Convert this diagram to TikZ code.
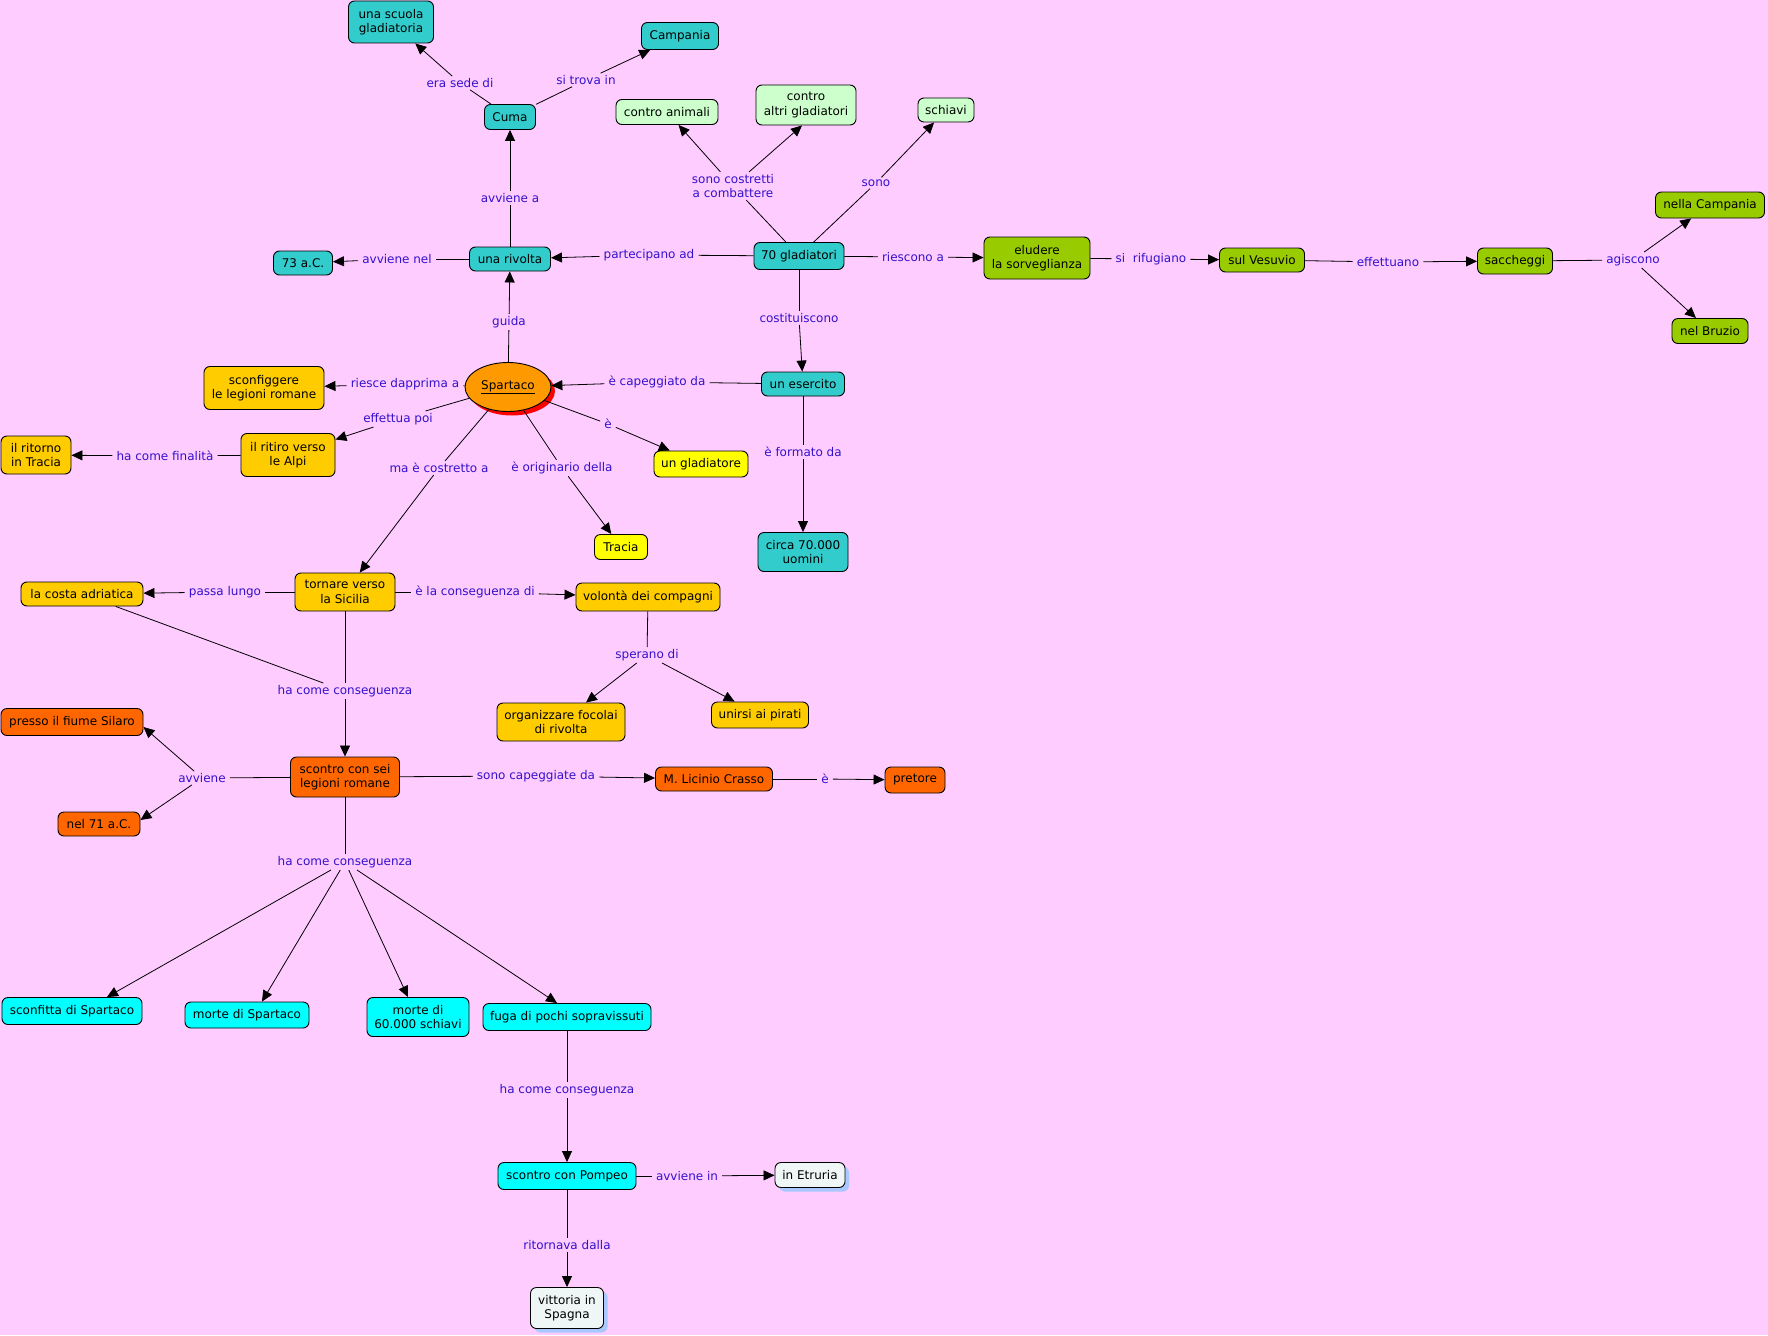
\documentclass[tikz,border=0pt]{standalone}
\usepackage{fontspec}
\setmainfont{DejaVu Sans}
\usetikzlibrary{arrows.meta,shapes.geometric,shadows}
\definecolor{cBg}{HTML}{FFCCFF}
\definecolor{cTeal}{HTML}{33CCCC}
\definecolor{cLGreen}{HTML}{CCFFCC}
\definecolor{cYGreen}{HTML}{99CC00}
\definecolor{cGold}{HTML}{FFCC00}
\definecolor{cYellow}{HTML}{FFFF00}
\definecolor{cOrange}{HTML}{FF9900}
\definecolor{cDOrange}{HTML}{FF6600}
\definecolor{cCyan}{HTML}{00FFFF}
\definecolor{cPale}{HTML}{EEF6F6}
\definecolor{cShadowBlue}{HTML}{A8C8FF}
\definecolor{cLbl}{HTML}{3311CC}
\begin{document}
\begin{tikzpicture}[x=1pt,y=-1pt,
  concept/.style={draw=black, line width=0.9pt, rounded corners=6pt, inner xsep=3pt, inner ysep=2pt, align=center, font=\fontsize{12}{14.5}\selectfont},
  cteal/.style={concept, fill=cTeal},
  clgreen/.style={concept, fill=cLGreen},
  cygreen/.style={concept, fill=cYGreen},
  cgold/.style={concept, fill=cGold},
  cyell/.style={concept, fill=cYellow},
  cdor/.style={concept, fill=cDOrange},
  ccyan/.style={concept, fill=cCyan},
  cpale/.style={concept, fill=cPale, drop shadow={shadow xshift=4pt, shadow yshift=-4pt, fill=cShadowBlue, opacity=1}},
  sz/.style 2 args={minimum width=#1pt, minimum height=#2pt},
  lbl/.style={text=cLbl, inner xsep=4pt, inner ysep=2pt, align=center, font=\fontsize{12}{14.5}\selectfont},
  ln/.style={line width=0.8pt},
  arr/.style={line width=0.8pt, -{Triangle[length=11pt,width=10pt]}}
]
\fill[cBg] (0,0) rectangle (1768,1335);
\useasboundingbox (0,0) rectangle (1768,1335);

% concepts
\node[cteal, sz={85}{42}] (scuola) at (391,22) {una scuola\\gladiatoria};
\node[cteal, sz={77}{27}] (campania) at (680,36) {Campania};
\node[cteal, sz={51}{25}] (cuma) at (510,117) {Cuma};
\node[clgreen, sz={102}{25}] (animali) at (667,112) {contro animali};
\node[clgreen, sz={100}{40}] (altri) at (806,105) {contro\\altri gladiatori};
\node[clgreen, sz={56}{24}] (schiavi) at (946,110) {schiavi};
\node[cteal, sz={59}{24}] (ac73) at (303,263) {73 a.C.};
\node[cteal, sz={81}{24}] (rivolta) at (510,259) {una rivolta};
\node[cteal, sz={90}{27}] (glad70) at (799,256) {70 gladiatori};
\node[cygreen, sz={106}{42}] (eludere) at (1037,258) {eludere\\la sorveglianza};
\node[cygreen, sz={85}{24}] (vesuvio) at (1262,260) {sul Vesuvio};
\node[cygreen, sz={75}{26}] (saccheggi) at (1515,261) {saccheggi};
\node[cygreen, sz={109}{26}] (ncamp) at (1710,205) {nella Campania};
\node[cygreen, sz={76}{25}] (bruzio) at (1710,331) {nel Bruzio};
\node[cteal, sz={83}{24}] (esercito) at (803,384) {un esercito};
\node[cteal, sz={90}{39}] (uomini) at (803,552) {circa 70.000\\uomini};
\node[ellipse, draw=black, line width=0.9pt, fill=cOrange, minimum width=86pt, minimum height=49pt, inner sep=0pt,
      font=\fontsize{12}{14.5}\selectfont,
      drop shadow={shadow xshift=4pt, shadow yshift=-4pt, fill=red, opacity=1}] (spartaco) at (508,387) {\underline{Spartaco}};
\node[cgold, sz={120}{43}] (sconf) at (264,388) {sconfiggere\\le legioni romane};
\node[cgold, sz={94}{43}] (ritiro) at (288,455) {il ritiro verso\\le Alpi};
\node[cgold, sz={70}{38}] (ritorno) at (36,455) {il ritorno\\in Tracia};
\node[cyell, sz={94}{26}] (gladiatore) at (701,464) {un gladiatore};
\node[cyell, sz={53}{25}] (tracia) at (621,547) {Tracia};
\node[cgold, sz={100}{38}] (tornare) at (345,592) {tornare verso\\la Sicilia};
\node[cgold, sz={122}{24}] (costa) at (82,594) {la costa adriatica};
\node[cgold, sz={144}{28}] (volonta) at (648,597) {volontà dei compagni};
\node[cgold, sz={128}{38}] (focolai) at (561,722) {organizzare focolai\\di rivolta};
\node[cgold, sz={97}{26}] (pirati) at (760,715) {unirsi ai pirati};
\node[cdor, sz={142}{27}] (silaro) at (72,722) {presso il fiume Silaro};
\node[cdor, sz={109}{40}] (scontro) at (345,777) {scontro con sei\\legioni romane};
\node[cdor, sz={82}{24}] (ac71) at (99,824) {nel 71 a.C.};
\node[cdor, sz={117}{24}] (crasso) at (714,779) {M. Licinio Crasso};
\node[cdor, sz={60}{26}] (pretore) at (915,780) {pretore};
\node[ccyan, sz={140}{27}] (sconfitta) at (72,1011) {sconfitta di Spartaco};
\node[ccyan, sz={124}{26}] (morte) at (247,1015) {morte di Spartaco};
\node[ccyan, sz={102}{39}] (morte60) at (418,1017) {morte di\\60.000 schiavi};
\node[ccyan, sz={168}{27}] (fuga) at (567,1017) {fuga di pochi sopravissuti};
\node[ccyan, sz={138}{27}] (pompeo) at (567,1176) {scontro con Pompeo};
\node[cpale, sz={70}{25}] (etruria) at (810,1175) {in Etruria};
\node[cpale, sz={73}{41}] (spagna) at (567,1308) {vittoria in\\Spagna};

% linking phrases
\node[lbl] (lsede) at (460,83) {era sede di};
\node[lbl] (ltrova) at (586,80) {si trova in};
\node[lbl] (lavva) at (510,198) {avviene a};
\node[lbl] (lavvnel) at (397,259) {avviene nel};
\node[lbl] (lpart) at (649,255) {partecipano ad};
\node[lbl] (lcostr) at (733,186) {sono costretti\\ a combattere};
\node[lbl] (lsono) at (876,183) {sono};
\node[lbl] (lriesc) at (913,257) {riescono a};
\node[lbl] (lcost) at (799,318) {costituiscono};
\node[lbl] (lrifug) at (1151,259) {si\ \ rifugiano};
\node[lbl] (leffett) at (1388,262) {effettuano};
\node[lbl] (lagisc) at (1633,260) {agiscono};
\node[lbl] (lguida) at (509,322) {guida};
\node[lbl] (lcapegg) at (657,382) {è capeggiato da};
\node[lbl] (lform) at (803,452) {è formato da};
\node[lbl] (ldappr) at (405,384) {riesce dapprima a};
\node[lbl] (leffpoi) at (398,419) {effettua poi};
\node[lbl] (lfinal) at (165,456) {ha come finalità};
\node[lbl] (le1) at (608,424) {è};
\node[lbl] (lcostr2) at (439,468) {ma è costretto a};
\node[lbl] (lorig) at (562,468) {è originario della};
\node[lbl] (lpassa) at (225,592) {passa lungo};
\node[lbl] (lconsdi) at (475,592) {è la conseguenza di};
\node[lbl] (lsper) at (647,655) {sperano di};
\node[lbl] (lhc1) at (345,691) {ha come conseguenza};
\node[lbl] (lavv) at (202,778) {avviene};
\node[lbl] (lcapeggiate) at (536,776) {sono capeggiate da};
\node[lbl] (le2) at (825,779) {è};
\node[lbl] (lhc2) at (345,862) {ha come conseguenza};
\node[lbl] (lhc3) at (567,1090) {ha come conseguenza};
\node[lbl] (lavvin) at (687,1176) {avviene in};
\node[lbl] (lritorn) at (567,1245) {ritornava dalla};

% connectors
\draw[ln] (cuma) -- (lsede); \draw[arr] (lsede) -- (scuola);
\draw[ln] (cuma) -- (ltrova); \draw[arr] (ltrova) -- (campania);
\draw[ln] (rivolta) -- (lavva); \draw[arr] (lavva) -- (cuma);
\draw[ln] (rivolta) -- (lavvnel); \draw[arr] (lavvnel) -- (ac73);
\draw[ln] (glad70) -- (lpart); \draw[arr] (lpart) -- (rivolta);
\draw[ln] (glad70) -- (lcostr); \draw[arr] (lcostr) -- (animali); \draw[arr] (lcostr) -- ([xshift=-4pt]altri.south);
\draw[ln] (glad70) -- (lsono); \draw[arr] (lsono) -- (schiavi);
\draw[ln] (glad70) -- (lriesc); \draw[arr] (lriesc) -- (eludere);
\draw[ln] (glad70) -- (lcost); \draw[arr] (lcost) -- (esercito);
\draw[ln] (eludere) -- (lrifug); \draw[arr] (lrifug) -- (vesuvio);
\draw[ln] (vesuvio) -- (leffett); \draw[arr] (leffett) -- (saccheggi);
\draw[ln] (saccheggi) -- (lagisc); \draw[arr] (lagisc) -- (ncamp); \draw[arr] (lagisc) -- (bruzio);
\draw[ln] (spartaco) -- (lguida); \draw[arr] (lguida) -- (rivolta);
\draw[ln] (esercito) -- (lcapegg); \draw[arr] (lcapegg) -- (spartaco);
\draw[ln] (esercito) -- (lform); \draw[arr] (lform) -- (uomini);
\draw[ln] (spartaco) -- (ldappr); \draw[arr] (ldappr) -- (sconf);
\draw[ln] (spartaco) -- (leffpoi); \draw[arr] (leffpoi) -- (ritiro);
\draw[ln] (ritiro) -- (lfinal); \draw[arr] (lfinal) -- (ritorno);
\draw[ln] (spartaco) -- (le1); \draw[arr] (le1) -- (gladiatore);
\draw[ln] (spartaco) -- (lcostr2); \draw[arr] (lcostr2) -- (tornare);
\draw[ln] (spartaco) -- (lorig); \draw[arr] (lorig) -- (tracia);
\draw[ln] (tornare) -- (lpassa); \draw[arr] (lpassa) -- (costa);
\draw[ln] (tornare) -- (lconsdi); \draw[arr] (lconsdi) -- (volonta);
\draw[ln] (volonta) -- (lsper); \draw[arr] (lsper) -- (focolai); \draw[arr] (lsper) -- (pirati);
\draw[ln] (tornare) -- (lhc1); \draw[ln] (costa) -- (lhc1); \draw[arr] (lhc1) -- (scontro);
\draw[ln] (scontro) -- (lavv); \draw[arr] (lavv) -- ([yshift=-5pt]silaro.east); \draw[arr] (lavv) -- ([yshift=4pt]ac71.east);
\draw[ln] (scontro) -- (lcapeggiate); \draw[arr] (lcapeggiate) -- (crasso);
\draw[ln] (crasso) -- (le2); \draw[arr] (le2) -- (pretore);
\draw[ln] (scontro) -- (lhc2);
\draw[arr] (lhc2) -- ([xshift=35pt]sconfitta.north); \draw[arr] (lhc2) -- ([xshift=15pt]morte.north);
\draw[arr] (lhc2) -- ([xshift=-10pt]morte60.north); \draw[arr] (lhc2) -- ([xshift=-10pt]fuga.north);
\draw[ln] (fuga) -- (lhc3); \draw[arr] (lhc3) -- (pompeo);
\draw[ln] (pompeo) -- (lavvin); \draw[arr] (lavvin) -- (etruria);
\draw[ln] (pompeo) -- (lritorn); \draw[arr] (lritorn) -- (spagna);
\end{tikzpicture}
\end{document}
